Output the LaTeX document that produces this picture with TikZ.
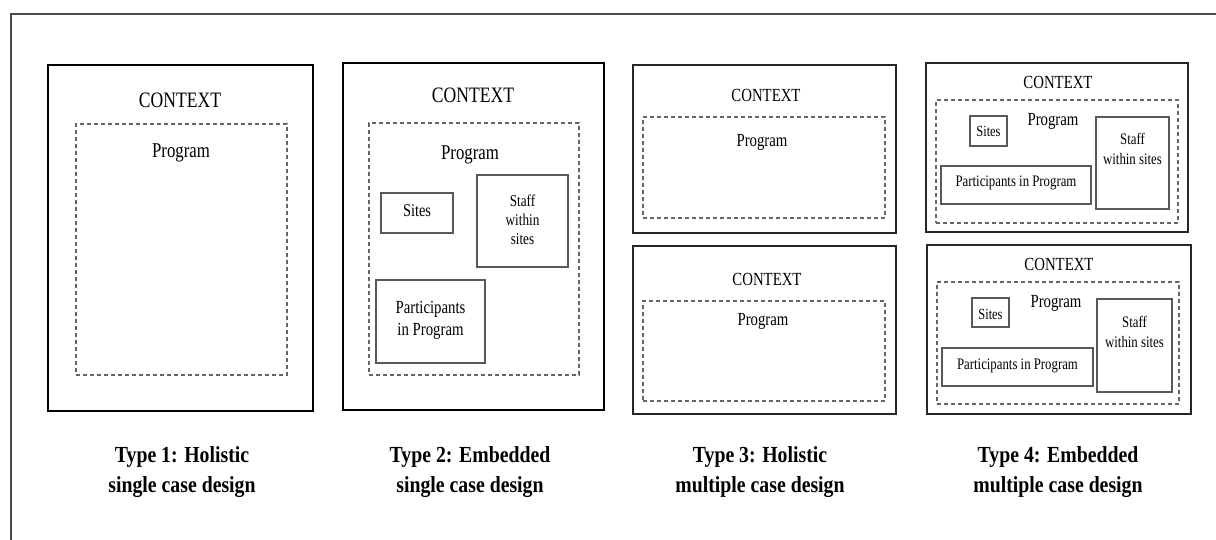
\documentclass[tikz,border=0pt]{standalone}
\usepackage{fontspec}
\setmainfont[FakeStretch=0.8]{Liberation Serif}
\newfontfamily\capfont[FakeStretch=0.86]{Liberation Serif}

\begin{document}
\begin{tikzpicture}[x=1pt, y=-1pt,
                    ctxbig/.style={draw=black, line width=2.6pt, inner sep=0pt},
                    ctxsmall/.style={draw=black!85, line width=1.9pt, inner sep=0pt},
                    progbox/.style={draw=black!60, dash pattern=on 4pt off 3pt, line width=1.2pt, inner sep=0pt},
                    unitbox/.style={draw=black!65, line width=1.1pt, inner sep=0pt},
                    txt/.style={anchor=base, inner sep=0pt, align=center},
                    caption/.style={anchor=base, inner sep=0pt, align=center,
                                    font=\capfont\bfseries\fontsize{23}{30}\selectfont}]

    \useasboundingbox (0,0) rectangle (1216,540);
    \draw[black!70, line width=1.5pt] (11,545) |- (1221,14); % page frame

    % Type 1
    \node[ctxbig, minimum width=265pt, minimum height=346pt] (boxA) at (180.5,238) {};
    \node[progbox, minimum width=211pt, minimum height=251pt] (progA) at (181.5,249.5) {};
    \node[txt, font=\fontsize{22}{26}\selectfont] (ctxA) at (180,108) {CONTEXT};
    \node[txt, font=\fontsize{21}{26}\selectfont] (prA) at (181,158) {Program};

    % Type 2
    \node[ctxbig, minimum width=261pt, minimum height=347pt] (boxB) at (473.5,236.5) {};
    \node[progbox, minimum width=210pt, minimum height=252pt] (progB) at (474,249) {};
    \node[txt, font=\fontsize{22}{26}\selectfont] (ctxB) at (473,103) {CONTEXT};
    \node[txt, font=\fontsize{21}{26}\selectfont] (prB) at (470,160) {Program};
    \node[unitbox, minimum width=72pt, minimum height=40pt] (sitesB) at (417,213) {};
    \node[unitbox, minimum width=91pt, minimum height=92pt] (staffB) at (522.5,221) {};
    \node[unitbox, minimum width=109pt, minimum height=83pt] (partB) at (430.5,321.5) {};
    \node[txt, font=\fontsize{18}{20}\selectfont] at (417,217) {Sites};
    \node[txt, font=\fontsize{16.5}{19}\selectfont] at (522.5,245) {Staff\\within\\sites};
    \node[txt, font=\fontsize{18.5}{22}\selectfont] at (430.5,335) {Participants\\in Program};

    % Type 3
    \node[ctxsmall, minimum width=263pt, minimum height=168pt] (boxC) at (764.5,149) {};
    \node[progbox, minimum width=242pt, minimum height=101pt] (progC) at (764,167.5) {};
    \node[txt, font=\fontsize{18.5}{22}\selectfont] (ctxC) at (766,102) {CONTEXT};
    \node[txt, font=\fontsize{18.5}{22}\selectfont] (prC) at (762,147) {Program};

    \node[ctxsmall, minimum width=263pt, minimum height=168pt] (boxD) at (764.5,330) {};
    \node[progbox, minimum width=242pt, minimum height=100pt] (progD) at (764,351) {};
    \node[txt, font=\fontsize{18.5}{22}\selectfont] (ctxD) at (767,285) {CONTEXT};
    \node[txt, font=\fontsize{18.5}{22}\selectfont] (prD) at (763,325) {Program};

    % Type 4
    \node[ctxsmall, minimum width=262pt, minimum height=169pt] (boxE) at (1057,147.5) {};
    \node[progbox, minimum width=242pt, minimum height=123pt] (progE) at (1057,161.5) {};
    \node[txt, font=\fontsize{18.5}{22}\selectfont] (ctxE) at (1058,89) {CONTEXT};
    \node[txt, font=\fontsize{18.5}{22}\selectfont] (prE) at (1053,126) {Program};
    \node[unitbox, minimum width=37pt, minimum height=30pt] (sitesE) at (988.5,131) {};
    \node[unitbox, minimum width=73pt, minimum height=92pt] (staffE) at (1132.5,163) {};
    \node[unitbox, minimum width=150pt, minimum height=38pt] (partE) at (1016,185) {};
    \node[txt, font=\fontsize{15.5}{18}\selectfont] at (988.5,137) {Sites};
    \node[txt, font=\fontsize{16}{20}\selectfont] at (1132.5,165) {Staff\\within sites};
    \node[txt, font=\fontsize{16}{20}\selectfont] at (1016,187) {Participants in Program};

    \node[ctxsmall, minimum width=264pt, minimum height=169pt] (boxF) at (1059,329.5) {};
    \node[progbox, minimum width=242pt, minimum height=122pt] (progF) at (1058,343) {};
    \node[txt, font=\fontsize{18.5}{22}\selectfont] (ctxF) at (1059,270) {CONTEXT};
    \node[txt, font=\fontsize{18.5}{22}\selectfont] (prF) at (1056,308) {Program};
    \node[unitbox, minimum width=37pt, minimum height=29pt] (sitesF) at (990.5,312.5) {};
    \node[unitbox, minimum width=75pt, minimum height=93pt] (staffF) at (1134.5,345.5) {};
    \node[unitbox, minimum width=151pt, minimum height=38pt] (partF) at (1017.5,367) {};
    \node[txt, font=\fontsize{15.5}{18}\selectfont] at (990.5,319) {Sites};
    \node[txt, font=\fontsize{16}{20}\selectfont] at (1134.5,347) {Staff\\within sites};
    \node[txt, font=\fontsize{16}{20}\selectfont] at (1017.5,369) {Participants in Program};

    % captions
    \node[caption] (capA) at (182,492) {Type 1: Holistic\\single case design};
    \node[caption] (capB) at (470,492) {Type 2: Embedded\\single case design};
    \node[caption] (capC) at (760,492) {Type 3: Holistic\\multiple case design};
    \node[caption] (capD) at (1058,492) {Type 4: Embedded\\multiple case design};
\end{tikzpicture}
\end{document}
